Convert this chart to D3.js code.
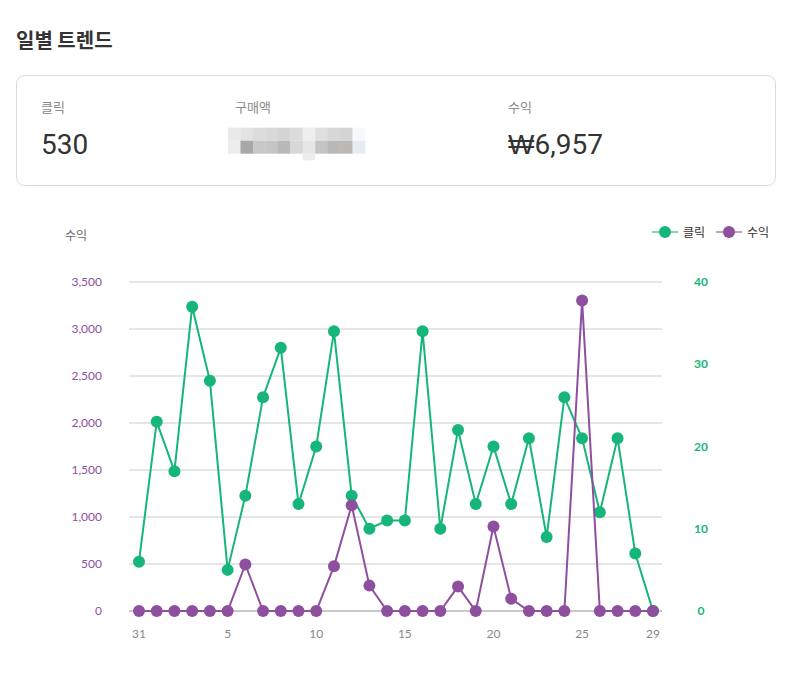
<!DOCTYPE html>
<html><head><meta charset="utf-8">
<script src="https://cdn.jsdelivr.net/npm/d3@7"></script>
<style>
body{margin:0;background:#fff;font-family:"Noto Sans CJK KR","Noto Sans",sans-serif;}
svg{display:block}
</style></head>
<body><svg id="c" width="792" height="692"></svg>
<script>
const days = ["31","1","2","3","4","5","6","7","8","9","10","11","12","13","14","15","16","17","18","19","20","21","22","23","24","25","26","27","28","29"];
const clicks = [6,23,17,37,28,5,14,26,32,13,20,34,14,10,11,11,34,10,22,13,20,13,21,9,26,21,12,21,7,0];
const revenue = [0,0,0,0,0,0,495,0,0,0,0,475,1125,270,0,0,0,0,260,0,900,130,0,0,0,3302,0,0,0,0];
const xTickLabels = ["31","5","10","15","20","25","29"];
const leftTicks = [0,500,1000,1500,2000,2500,3000,3500];
const rightTicks = [0,10,20,30,40];
const summaryLabels = ["클릭","구매액","수익"];
const summaryValues = ["530",null,"₩6,957"];

const GREEN="#16b57a", PURPLE="#8e4f9f";
const svg=d3.select("#c");
const KR='"Noto Sans CJK KR","Noto Sans",sans-serif';
const NUM='Roboto,"Noto Sans CJK KR",sans-serif';
const TICK='Lato,"Noto Sans",sans-serif';

svg.append("text").attr("x",16).attr("y",48).attr("font-family",KR).attr("font-weight",700)
  .attr("font-size",20).attr("fill","#333").text("일별 트렌드");

svg.append("rect").attr("x",16.5).attr("y",75.5).attr("width",759).attr("height",110).attr("rx",8)
  .attr("fill","#fff").attr("stroke","#dcdcdc");
const sx=[41,235,508];
summaryLabels.forEach((l,i)=>{
  svg.append("text").attr("x",sx[i]).attr("y",112).attr("font-family",KR).attr("font-size",13)
    .attr("fill","#8a8a8a").text(l);
  if(summaryValues[i]){
    const t=svg.append("text").attr("x",sx[i]).attr("y",154).attr("font-family",NUM)
    .attr("font-size",28).attr("fill","#333");
    const v=summaryValues[i];
    if(v[0]==="₩"){
      t.append("tspan").attr("font-family",'"DejaVu Sans",sans-serif').attr("font-weight",200).text("₩");
      t.append("tspan").text(v.slice(1));
    } else t.text(v);
  }
});
// blurred mosaic value
const mos1=["#e9e9ea","#e3e3e3","#dcdcdc","#d9d9d9","#d4d4d4","#dbdbdb","#eeeeee","#dfdfdf","#d7d7d7","#d4d4d4","#f6f8fb"];
const mos2=["#efedec","#a8a8a8","#c8c8c8","#c5c5c5","#b9b9b9","#d8d8d8","#e6e6e6","#c4c4c4","#b8b8b8","#bcb8b4","#e6ecf3"];
const cw=(365-228)/11;
mos1.forEach((c,i)=>svg.append("rect").attr("x",228+i*cw).attr("y",127.7).attr("width",cw+0.3).attr("height",13).attr("fill",c));
mos2.forEach((c,i)=>svg.append("rect").attr("x",228+i*cw).attr("y",140.7).attr("width",cw+0.3).attr("height",13).attr("fill",c));
svg.append("rect").attr("x",228+6*cw).attr("y",153.7).attr("width",cw).attr("height",6.6).attr("fill","#ececec");

// chart
const x=d3.scalePoint().domain(days).range([139,653]);
const yL=d3.scaleLinear().domain([0,3500]).range([611,282]);
const yR=d3.scaleLinear().domain([0,40]).range([611,282]);

const g=svg.append("g");
leftTicks.forEach(t=>{
  g.append("line").attr("x1",129).attr("x2",662).attr("y1",yL(t)).attr("y2",yL(t))
    .attr("stroke",t===0?"#c8c8c8":"#cccccc").attr("stroke-width",t===0?2:1);
});
const fmt=d3.format(",");
leftTicks.forEach(t=>{
  g.append("text").attr("x",102).attr("y",yL(t)+4).attr("text-anchor","end").attr("font-family",TICK)
    .attr("font-size",12).attr("fill",PURPLE).text(fmt(t));
});
rightTicks.forEach(t=>{
  g.append("text").attr("x",701).attr("y",yR(t)+4).attr("text-anchor","middle").attr("font-family",TICK)
    .attr("font-weight",700).attr("font-size",12).attr("fill",GREEN).text(t);
});
xTickLabels.forEach(d=>{
  g.append("text").attr("x",x(d)).attr("y",638).attr("text-anchor","middle").attr("font-family",TICK)
    .attr("font-size",12).attr("fill","#888").text(d);
});
svg.append("text").attr("x",65).attr("y",240).attr("font-family",KR).attr("font-size",12)
  .attr("fill","#666").text("수익");

function series(vals,y,color){
  const line=d3.line().x((d,i)=>x(days[i])).y(d=>y(d));
  g.append("path").attr("d",line(vals)).attr("fill","none").attr("stroke",color).attr("stroke-width",2);
  g.selectAll(null).data(vals).enter().append("circle").attr("cx",(d,i)=>x(days[i])).attr("cy",d=>y(d))
    .attr("r",6).attr("fill",color);
}
series(clicks,yR,GREEN);
series(revenue,yL,PURPLE);

// legend
const leg=[{n:"클릭",c:GREEN,x:652},{n:"수익",c:PURPLE,x:716}];
leg.forEach(l=>{
  svg.append("line").attr("x1",l.x).attr("x2",l.x+26).attr("y1",232).attr("y2",232).attr("stroke",l.c)
    .attr("stroke-opacity",0.55).attr("stroke-width",2);
  svg.append("circle").attr("cx",l.x+13).attr("cy",232).attr("r",6).attr("fill",l.c);
  svg.append("text").attr("x",l.x+31).attr("y",236.5).attr("font-family",KR).attr("font-size",12)
    .attr("fill","#333").text(l.n);
});
</script></body></html>
